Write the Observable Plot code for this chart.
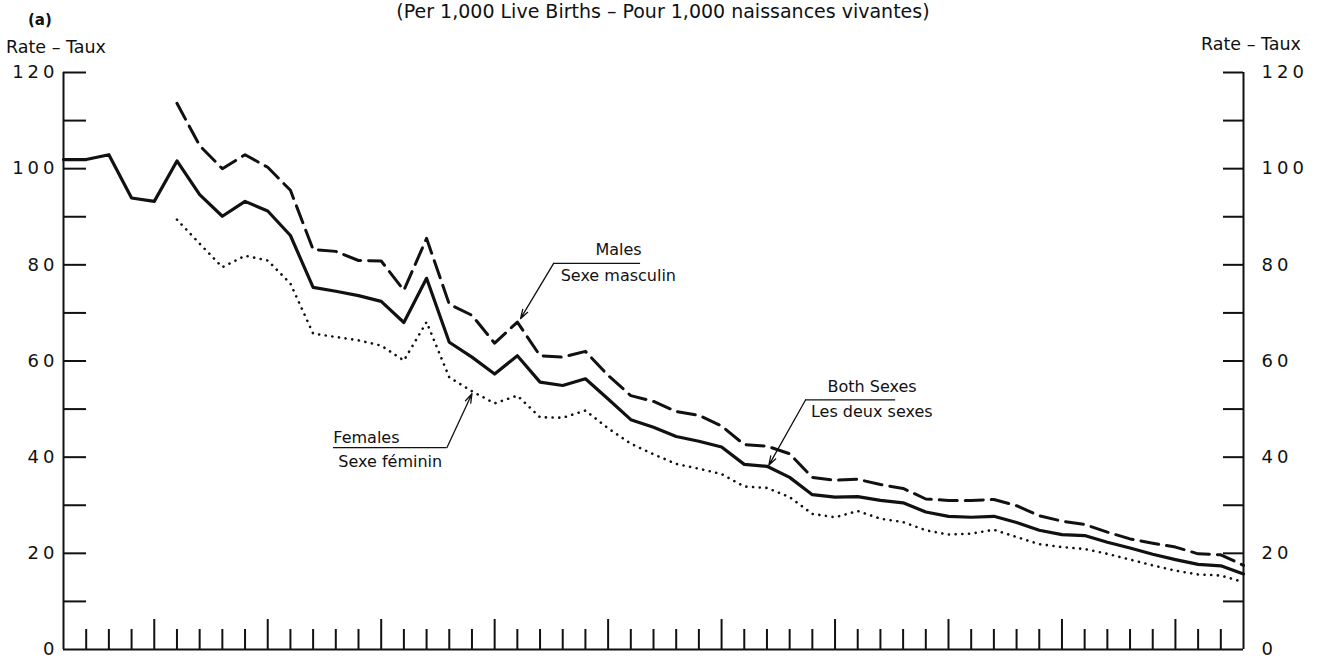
<!DOCTYPE html>
<html><head><meta charset="utf-8">
<script src="https://cdn.jsdelivr.net/npm/d3@7"></script>
<script src="https://cdn.jsdelivr.net/npm/@observablehq/plot@0.6"></script>
<style>
body{margin:0;background:#fff;}
#wrap{position:relative;width:1320px;height:661px;overflow:hidden;font-family:"DejaVu Sans",sans-serif;color:#111;}
#chart{position:absolute;left:0;top:0;}
.lbl{position:absolute;white-space:nowrap;line-height:normal;}
#chart g[aria-label="y-axis tick label"] text{letter-spacing:4px;}
</style></head><body>
<div id="wrap">
<div id="chart"></div>
<div class="lbl" style="left:28px;top:11px;font-size:15px;font-weight:bold;">(a)</div>
<div class="lbl" style="left:0;width:1326px;text-align:center;top:0px;font-size:19px;">(Per 1,000 Live Births – Pour 1,000 naissances vivantes)</div>
<div class="lbl" style="left:6px;top:37px;font-size:17.5px;">Rate – Taux</div>
<div class="lbl" style="left:1201px;top:34px;font-size:17.5px;">Rate – Taux</div>
</div>
<script>
// ---- data ----
const years = [1921,1922,1923,1924,1925,1926,1927,1928,1929,1930,1931,1932,1933,1934,1935,1936,1937,1938,1939,1940,1941,1942,1943,1944,1945,1946,1947,1948,1949,1950,1951,1952,1953,1954,1955,1956,1957,1958,1959,1960,1961,1962,1963,1964,1965,1966,1967,1968,1969,1970,1971,1972,1973];
const bothSexes = [101.9,101.9,102.9,93.9,93.2,101.6,94.6,90.1,93.2,91.2,86.1,75.3,74.5,73.6,72.4,68.0,77.2,63.9,60.8,57.3,61.1,55.6,54.9,56.3,52.1,47.8,46.2,44.3,43.3,42.1,38.5,38.1,35.8,32.2,31.7,31.8,31.0,30.5,28.6,27.7,27.5,27.7,26.4,24.8,23.9,23.7,22.3,21.1,19.8,18.7,17.7,17.4,15.7];
const sexYears = [1926,1927,1928,1929,1930,1931,1932,1933,1934,1935,1936,1937,1938,1939,1940,1941,1942,1943,1944,1945,1946,1947,1948,1949,1950,1951,1952,1953,1954,1955,1956,1957,1958,1959,1960,1961,1962,1963,1964,1965,1966,1967,1968,1969,1970,1971,1972,1973];
const males = [113.6,104.8,100.0,102.9,100.3,95.5,83.2,82.8,80.9,80.8,74.7,85.5,71.8,69.5,63.7,68.1,61.1,60.8,62.0,57.0,52.8,51.6,49.5,48.7,46.5,42.6,42.3,40.7,35.8,35.2,35.4,34.3,33.5,31.3,31.0,31.0,31.2,29.9,27.8,26.7,26.0,24.4,23.0,22.1,21.3,19.9,19.7,17.5];
const females = [89.4,84.4,79.5,81.9,80.9,76.1,65.7,65.0,64.3,63.2,60.1,68.1,56.6,53.7,51.2,52.8,48.3,48.2,49.7,46.0,42.8,40.6,38.6,37.6,36.5,33.9,33.6,31.7,28.2,27.5,28.8,27.2,26.5,24.8,23.9,24.1,24.9,23.4,21.9,21.3,20.9,19.9,18.7,17.5,16.4,15.6,15.4,14.0];

const yTickValues = [10,20,30,40,50,60,70,80,90,100,110,120];
const yLabelValues = [0,20,40,60,80,100,120];
const xShortTicks = [1922,1923,1924,1926,1927,1928,1929,1931,1932,1933,1934,1936,1937,1938,1939,1941,1942,1943,1944,1946,1947,1948,1949,1951,1952,1953,1954,1956,1957,1958,1959,1961,1962,1963,1964,1966,1967,1968,1969,1971,1972];
const xLongTicks = [1925,1930,1935,1940,1945,1950,1955,1960,1965,1970];
const xDomain = [1921, 1973];
const yDomain = [0, 120];

// annotation labels (in chart units)
const annoText = ["Males","Sexe masculin","Both Sexes","Les deux sexes","Females","Sexe féminin"];
const annoX = [1945.46,1945.45,1956.63,1956.62,1934.35,1935.4];
const annoY = [83.2,77.6,54.7,49.5,44.1,39.1];
const underX1 = [1942.6,1953.7,1932.9];
const underX2 = [1946.43,1957.67,1937.9];
const underY = [80.3,51.9,42.0];
const leaderX1 = [1942.6,1953.7,1937.9];
const leaderY1 = [80.3,51.9,42.0];
const leaderX2 = [1941.14,1952.08,1939.0];
const leaderY2 = [68.8,38.3,53.2];

// ---- build ----
const W = 1320, H = 661, mL = 63, mR = 77, mT = 72, mB = 12;
const innerW = W - mL - mR, innerH = H - mT - mB;
const both = years.map((x,i)=>({x, y: bothSexes[i]}));
const maleData = sexYears.map((x,i)=>({x, y: males[i]}));
const femaleData = sexYears.map((x,i)=>({x, y: females[i]}));
const annos = annoText.map((t,i)=>({t, x: annoX[i], y: annoY[i]}));
const unders = underY.map((y,i)=>({x1: underX1[i], x2: underX2[i], y}));
const leaders = leaderX1.map((x1,i)=>({x1, y1: leaderY1[i], x2: leaderX2[i], y2: leaderY2[i]}));
const ink = "#111";
const font = "DejaVu Sans";

const chart = Plot.plot({
  width: W, height: H,
  marginLeft: mL, marginRight: mR, marginTop: mT, marginBottom: mB,
  x: {domain: xDomain, axis: null},
  y: {domain: yDomain, axis: null},
  style: {background: "white", color: ink},
  marks: [
    Plot.ruleX(xDomain, {x: d=>d, y1: yDomain[0], y2: yDomain[1], stroke: ink, strokeWidth: 2}),
    Plot.ruleY([yDomain[0]], {stroke: ink, strokeWidth: 2.2}),
    Plot.tickY(yTickValues, {y: d=>d, insetRight: innerW - 23, stroke: ink, strokeWidth: 2}),
    Plot.tickY(yTickValues, {y: d=>d, insetLeft: innerW - 20, stroke: ink, strokeWidth: 2}),
    Plot.tickX(xShortTicks, {x: d=>d, insetTop: innerH - 20, stroke: ink, strokeWidth: 2}),
    Plot.tickX(xLongTicks, {x: d=>d, insetTop: innerH - 30, stroke: ink, strokeWidth: 2}),
    Plot.axisY(yLabelValues, {anchor: "left", tickSize: 0, tickPadding: 5, fontSize: 18, fontFamily: font, fill: ink}),
    Plot.axisY(yLabelValues, {anchor: "right", tickSize: 0, tickPadding: 18, fontSize: 18, fontFamily: font, fill: ink}),
    Plot.line(femaleData, {x: "x", y: "y", stroke: ink, strokeWidth: 2.6, strokeDasharray: "0.1,6.6", strokeLinecap: "round", strokeLinejoin: "round"}),
    Plot.line(maleData, {x: "x", y: "y", stroke: ink, strokeWidth: 3, strokeDasharray: "18,8", strokeLinejoin: "round"}),
    Plot.line(both, {x: "x", y: "y", stroke: ink, strokeWidth: 3.2, strokeLinejoin: "round"}),
    Plot.ruleY(unders, {y: "y", x1: "x1", x2: "x2", stroke: ink, strokeWidth: 1.3}),
    Plot.arrow(leaders, {x1: "x1", y1: "y1", x2: "x2", y2: "y2", stroke: ink, strokeWidth: 1.3, headLength: 11, headAngle: 35}),
    Plot.text(annos, {x: "x", y: "y", text: "t", fontSize: 16, fontFamily: font, fill: ink})
  ]
});
document.getElementById("chart").append(chart);
</script>
</body></html>
